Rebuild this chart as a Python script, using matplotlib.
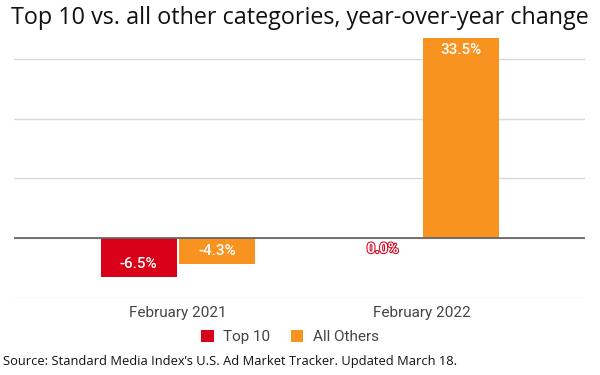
import matplotlib.pyplot as plt
import matplotlib.patheffects as pe
import numpy as np

categories = ["February 2021", "February 2022"]
series_names = ["Top 10", "All Others"]
top10 = [-6.5, 0.0]
all_others = [-4.3, 33.5]
colors = ["#d90019", "#f7931e"]

fig = plt.figure(figsize=(6, 3.75), dpi=100)
ax = fig.add_axes([14 / 600, 1 - 298 / 375, 571 / 600, (298 - 38) / 375])

x = np.arange(len(categories))
w = 0.312
off = 0.161

b1 = ax.bar(x - off, top10, w, color=colors[0], label=series_names[0], zorder=3)
b2 = ax.bar(x + off, all_others, w, color=colors[1], label=series_names[1], zorder=3)

ax.set_ylim(-10, 33.5)
ax.set_xlim(-0.672, 1.668)
ax.set_yticks([-10, 0, 10, 20, 30])
ax.yaxis.grid(True, color="#d8d8d8", linewidth=1, zorder=0)
ax.axhline(0, color="#666666", linewidth=1.3, zorder=4)
ax.tick_params(axis="y", length=0, labelleft=False)
ax.tick_params(axis="x", length=0, pad=6, labelsize=11, labelcolor="#444444")
ax.set_xticks(x)
ax.set_xticklabels(categories, family="Roboto")
for s in ax.spines.values():
    s.set_visible(False)

# value labels
for bars, vals in [(b1, top10), (b2, all_others)]:
    for rect, v in zip(bars, vals):
        cx = rect.get_x() + rect.get_width() / 2
        label = f"{v:.1f}%"
        if v == 0:
            ax.text(cx, -1.8, label, ha="center", va="center", fontsize=10.5,
                    family="Roboto", color="white", fontweight="bold",
                    path_effects=[pe.withStroke(linewidth=1.5, foreground="#d90019")],
                    zorder=5)
        elif v < 0:
            ax.text(cx, v + 2.2, label, ha="center", va="center", fontsize=11,
                    family="Roboto", color="white", fontweight="medium", zorder=5)
        else:
            ax.text(cx, v - 2.0, label, ha="center", va="center", fontsize=11,
                    family="Roboto", color="white", fontweight="medium", zorder=5)

fig.text(0.5, 1 - 18 / 375, "Top 10 vs. all other categories, year-over-year change",
         ha="center", va="center", fontsize=16.8, family="Open Sans", color="#111111")

leg = fig.legend(handles=[b1, b2], labels=series_names, loc="center",
                 bbox_to_anchor=(290 / 600, 1 - 337 / 375), ncol=2, frameon=False,
                 handlelength=0.8, handleheight=0.8, handletextpad=0.6, columnspacing=1.4,
                 prop={"family": "Roboto", "size": 11})
for t in leg.get_texts():
    t.set_color("#444444")

fig.text(3 / 600, 1 - 362 / 375,
         "Source: Standard Media Index\u2019s U.S. Ad Market Tracker. Updated March 18.",
         ha="left", va="center", fontsize=9.3, family="Open Sans", color="#111111")

fig.savefig("out.png", dpi=100)
